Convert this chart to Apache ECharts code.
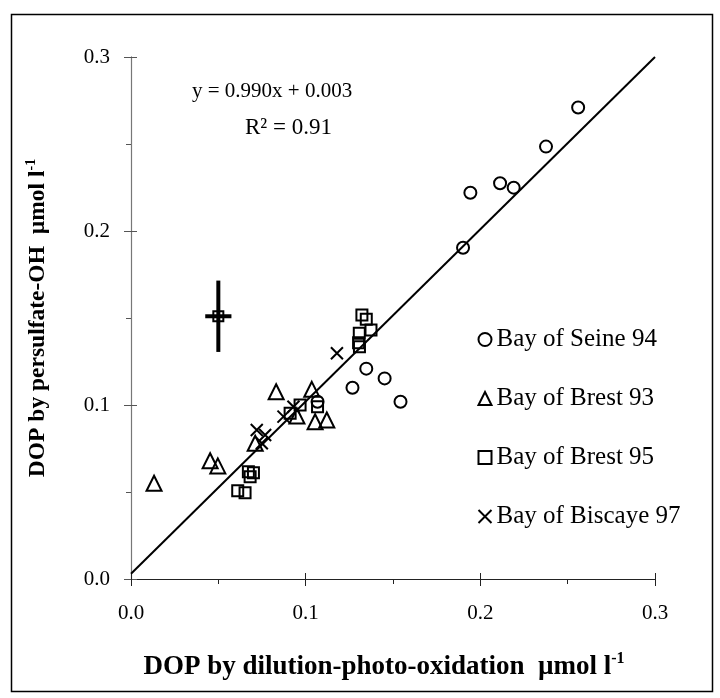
<!DOCTYPE html>
<html>
<head>
<meta charset="utf-8">
<script src="https://cdn.jsdelivr.net/npm/echarts@6/dist/echarts.min.js"></script>
<style>
  html, body { margin:0; padding:0; background:#fff; }
  #chart { width:720px; height:698px; }
</style>
</head>
<body>
<div id="chart"></div>
<script>
// values (DOP, umol/l)
var seine94 = [[0.256,0.271],[0.2376,0.2485],[0.2113,0.2274],[0.2191,0.2249],[0.1943,0.222],
               [0.1901,0.1904],[0.1347,0.1209],[0.1452,0.1153],[0.1543,0.1019],[0.1268,0.1099],[0.1068,0.1019]];
var brest93 = [[0.0132,0.055],[0.0453,0.068],[0.0497,0.065],[0.0711,0.078],[0.0831,0.1076],
               [0.1035,0.109],[0.095,0.0937],[0.1054,0.0904],[0.1121,0.0914]];
var brest95 = [[0.0672,0.0617],[0.0701,0.0611],[0.0682,0.0588],[0.0611,0.0507],[0.0653,0.0496],
               [0.1068,0.099],[0.0968,0.1],[0.0911,0.0952],[0.1322,0.1517],[0.1347,0.1493],
               [0.1374,0.1431],[0.1307,0.1412],[0.1303,0.1358],[0.1308,0.1335]];
var biscaye97 = [[0.1179,0.1297],[0.072,0.0856],[0.0768,0.0828],[0.0749,0.078],[0.093,0.099],[0.0873,0.0933]];
// typical error: x, y, +-x, +-y
var errorBar = [[0.050,0.151,0.0075,0.0205]];
var fitLine = [[0,0.003],[0.3,0.300]];
var seriesNames = ['Bay of Seine 94','Bay of Brest 93','Bay of Brest 95','Bay of Biscaye 97'];
var equationText = ['y = 0.990x + 0.003','R\u00b2 = 0.91'];

var FONT = '"Liberation Serif", "Times New Roman", serif';
var crossPath = 'path://M0,0L10,10M10,0L0,10';

var chart = echarts.init(document.getElementById('chart'));

function hollow(name, symbol, size, data){
    return {
        name:name, type:'scatter', symbol:symbol, symbolSize:size, data:data,
        itemStyle:{color:'none', borderColor:'#000', borderWidth:2, opacity:1},
        emphasis:{disabled:true}, z:3
    };
}

function titleStyle(size, pad){
    return {fontFamily:FONT, fontSize:size, fontWeight:'bold', color:'#000', padding:pad,
        rich:{sup:{fontFamily:FONT, fontSize:Math.round(size*0.6), fontWeight:'bold', color:'#000',
                   verticalAlign:'top', padding:[0,0,Math.round(size*0.6),0]}}};
}

var labelStyle = {fontFamily:FONT, fontSize:21, color:'#000', formatter:function(v){return v.toFixed(1);}};

var option = {
    animation:false,
    backgroundColor:'#fff',
    grid:{left:131, right:65, top:57, bottom:119, containLabel:false},
    xAxis:[
        {type:'value', min:0, max:0.3, interval:0.1, splitLine:{show:false},
         name:'DOP by dilution-photo-oxidation  \u00b5mol l{sup|-1}',
         nameLocation:'middle', nameGap:72, nameTextStyle:titleStyle(27, [0,18,0,0]),
         axisLine:{lineStyle:{color:'#222', width:1.2}},
         axisTick:{inside:false, length:7, lineStyle:{color:'#222'}},
         minorTick:{show:true, splitNumber:2, length:5, lineStyle:{color:'#222'}},
         axisLabel:echarts.util.merge({margin:24}, labelStyle)},
        {type:'value', min:0, max:0.3, interval:0.1, position:'bottom',
         axisLine:{lineStyle:{color:'#222'}}, axisTick:{inside:true, length:6, lineStyle:{color:'#222'}},
         axisLabel:{show:false}, splitLine:{show:false}}
    ],
    yAxis:[
        {type:'value', min:0, max:0.3, interval:0.1, splitLine:{show:false},
         name:'DOP by persulfate-OH  \u00b5mol l{sup|-1}',
         nameLocation:'middle', nameGap:79, nameTextStyle:titleStyle(23.5, 0),
         axisLine:{lineStyle:{color:'#777', width:1.2}},
         axisTick:{inside:false, length:7, lineStyle:{color:'#555'}},
         minorTick:{show:true, splitNumber:2, length:5, lineStyle:{color:'#555'}},
         axisLabel:echarts.util.merge({margin:21}, labelStyle)},
        {type:'value', min:0, max:0.3, interval:0.1, position:'left',
         axisLine:{lineStyle:{color:'#777'}}, axisTick:{inside:true, length:6, lineStyle:{color:'#555'}},
         axisLabel:{show:false}, splitLine:{show:false}}
    ],
    legend:{
        data:seriesNames,
        orient:'vertical', left:471, top:322, itemGap:34,
        itemWidth:13, itemHeight:13,
        textStyle:{fontFamily:FONT, fontSize:25, color:'#000'},
        itemStyle:{color:'none', borderColor:'#000', borderWidth:2},
        selectedMode:false
    },
    graphic:[
        {type:'rect', left:9, top:12, shape:{width:701, height:677},
         style:{fill:'none', stroke:'#000', lineWidth:1.5}, silent:true},
        {type:'text', left:192, top:81, style:{text:equationText[0], font:'21px ' + FONT, fill:'#000'}},
        {type:'text', left:245, top:116, style:{text:equationText[1], font:'23px ' + FONT, fill:'#000'}}
    ],
    series:[
        {name:'fit', type:'line', data:fitLine, symbol:'none', silent:true,
         lineStyle:{color:'#000', width:2}, z:2},
        hollow(seriesNames[0], 'circle', 12, seine94),
        hollow(seriesNames[1], 'triangle', 15, brest93),
        hollow(seriesNames[2], 'rect', 11, brest95),
        hollow(seriesNames[3], crossPath, 12, biscaye97),
        {name:'error', type:'custom', data:errorBar, silent:true, z:4,
         renderItem:function(params, api){
             var x = api.value(0), y = api.value(1), dx = api.value(2), dy = api.value(3);
             var c = api.coord([x, y]);
             var l = api.coord([x - dx, y]), r = api.coord([x + dx, y]);
             var t = api.coord([x, y + dy]), b = api.coord([x, y - dy]);
             var st = {stroke:'#000', lineWidth:4};
             return {type:'group', children:[
                 {type:'line', shape:{x1:l[0], y1:l[1], x2:r[0], y2:r[1]}, style:st},
                 {type:'line', shape:{x1:t[0], y1:t[1], x2:b[0], y2:b[1]}, style:st},
                 {type:'rect', shape:{x:c[0]-5, y:c[1]-5, width:10, height:10},
                  style:{fill:'none', stroke:'#000', lineWidth:2}}
             ]};
         }}
    ]
};
chart.setOption(option);
</script>
</body>
</html>
